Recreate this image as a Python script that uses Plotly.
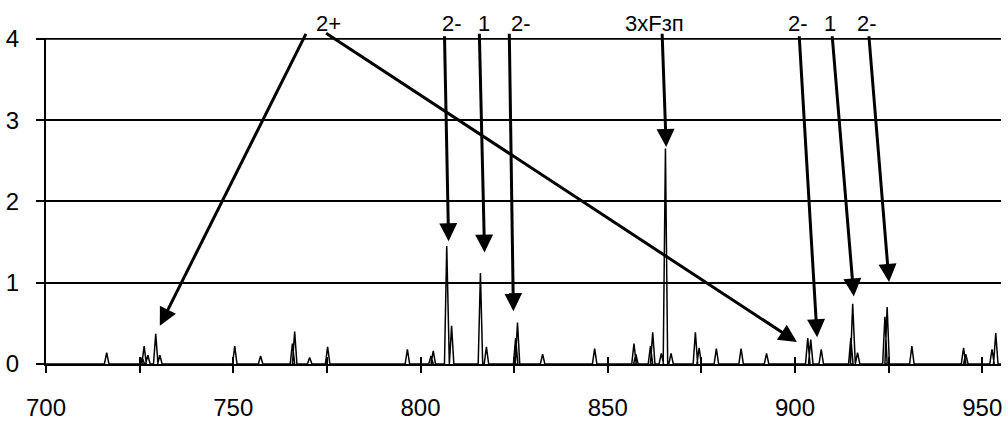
import plotly.graph_objects as go

# ---- spectrum data (mass, intensity) ----
masses = [716.2, 725.7, 726.2, 727.2, 729.3, 730.4, 750.4, 757.3, 765.8, 766.4,
          770.4, 775.2, 796.5, 802.8, 803.4, 807.0, 808.3, 816.0, 817.6, 825.4,
          825.9, 832.6, 846.5, 857.0, 857.5, 861.4, 862.0, 864.3, 865.4, 866.9,
          873.4, 874.4, 879.0, 885.6, 892.4, 903.4, 904.2, 907.0, 914.9, 915.4,
          916.7, 924.0, 924.6, 931.2, 945.0, 945.6, 952.6, 953.6]
intens = [0.14, 0.08, 0.22, 0.11, 0.37, 0.11, 0.22, 0.10, 0.25, 0.40,
          0.08, 0.21, 0.18, 0.10, 0.16, 1.45, 0.47, 1.12, 0.21, 0.32,
          0.51, 0.12, 0.19, 0.25, 0.12, 0.22, 0.39, 0.13, 2.65, 0.13,
          0.39, 0.20, 0.19, 0.19, 0.13, 0.32, 0.30, 0.18, 0.32, 0.74,
          0.14, 0.58, 0.70, 0.22, 0.20, 0.12, 0.18, 0.38]

# ---- axes ----
x_range = [700, 955]
y_range = [0, 4.01]
x_ticks = list(range(700, 956, 25))
x_ticktext = [str(v) if v % 50 == 0 else "" for v in x_ticks]
y_ticks = [0, 1, 2, 3, 4]

# ---- arrow annotations: label, label position, tail, head ----
arrow_labels = ["2+", "2-", "1", "2-", "3xFзп", "2-", "1", "2-"]
label_x = [775.5, 808.3, 817.0, 826.7, 862.4, 900.8, 909.3, 919.2]
label_y_paper = 1.045
tail_x = [769.6, 774.4, 806.4, 815.7, 823.7, 864.5, 901.1, 909.9, 919.7]
tail_y = [4.08, 4.08, 4.05, 4.08, 4.08, 4.08, 4.05, 4.05, 4.05]
head_x = [730.4, 900.5, 807.5, 817.1, 824.8, 865.6, 905.9, 915.7, 925.1]
head_y = [0.47, 0.27, 1.51, 1.37, 0.65, 2.67, 0.33, 0.83, 1.01]

# build the spectrum line: each peak is a narrow spike
half_w = 0.6
xs, ys = [x_range[0]], [0]
for m, h in sorted(zip(masses, intens)):
    xs += [m - half_w, m, m + half_w]
    ys += [0, h, 0]
xs.append(x_range[1])
ys.append(0)

fig = go.Figure()
fig.add_trace(go.Scatter(x=xs, y=ys, mode="lines",
                         line=dict(color="black", width=1.5),
                         hoverinfo="skip", showlegend=False))
# invisible trace on overlay axis for crossing ticks
fig.add_trace(go.Scatter(x=x_range, y=[0, 0], mode="lines", xaxis="x2",
                         line=dict(color="rgba(0,0,0,0)"), showlegend=False,
                         hoverinfo="skip"))

family = "Liberation Sans, Arial, sans-serif"
font = dict(family=family, size=24, color="black")

annotations = []
for tx, ty, hx, hy in zip(tail_x, tail_y, head_x, head_y):
    annotations.append(dict(x=hx, y=hy, ax=tx, ay=ty, xref="x", yref="y",
                            axref="x", ayref="y", text="", showarrow=True,
                            arrowhead=2, arrowsize=1.2, arrowwidth=3,
                            arrowcolor="black", standoff=0, startstandoff=0))
for t, lx in zip(arrow_labels, label_x):
    annotations.append(dict(x=lx, y=label_y_paper, xref="x", yref="paper",
                            text=t, showarrow=False, yanchor="middle",
                            font=dict(family=family, size=22, color="black")))

fig.update_layout(
    width=1008, height=427,
    margin=dict(l=46, r=6, t=38, b=49),
    paper_bgcolor="white", plot_bgcolor="white",
    font=font,
    showlegend=False,
    annotations=annotations,
    xaxis=dict(range=x_range, tickmode="array", tickvals=x_ticks,
               ticktext=x_ticktext, ticks="outside", ticklen=7,
               tickwidth=2, tickcolor="black",
               showline=True, linecolor="black", linewidth=2,
               showgrid=False, zeroline=False, ticklabelstandoff=14,
               tickfont=font),
    xaxis2=dict(range=x_range, overlaying="x", side="bottom", anchor="y",
                tickmode="array", tickvals=x_ticks, ticks="inside", ticklen=7,
                tickwidth=2, tickcolor="black", showticklabels=False,
                showgrid=False, zeroline=False, showline=False),
    yaxis=dict(range=y_range, tickvals=y_ticks, ticks="outside", ticklen=8,
               tickwidth=2, tickcolor="black",
               showline=True, linecolor="black", linewidth=2,
               showgrid=True, gridcolor="black", gridwidth=2,
               zeroline=False, ticklabelstandoff=12, tickfont=font),
)
# top gridline at the highest y tick (hidden by plotly at the plot edge)
fig.add_hline(y=y_ticks[-1], line=dict(color="black", width=2), layer="below")

fig.write_html("out.html")
